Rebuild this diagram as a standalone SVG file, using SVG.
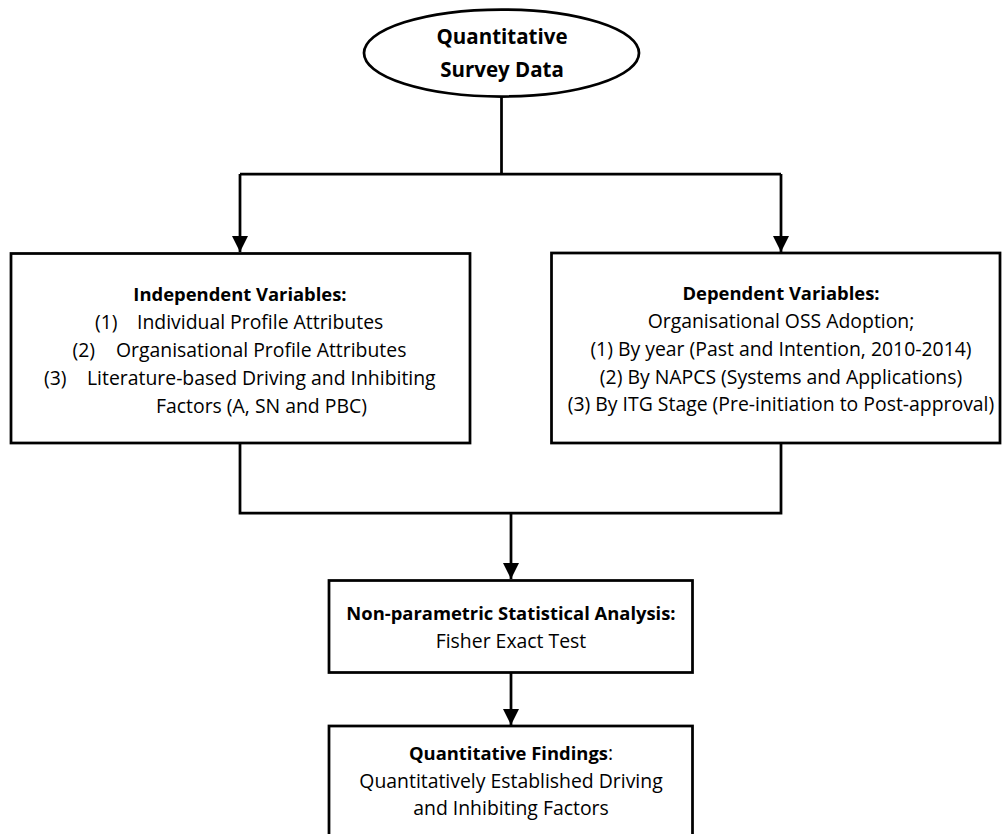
<svg xmlns="http://www.w3.org/2000/svg" width="1003" height="834" viewBox="0 0 1003 834">
  <style>
    .shape { fill: #ffffff; stroke: #000000; stroke-width: 2.75; }
    .wire { fill: none; stroke: #000000; stroke-width: 2.75; }
    text { font-family: "Open Sans", "Noto Sans", "Liberation Sans", sans-serif; fill: #000000; }
    .t { font-size: 19.4px; }
    .b { font-size: 18.4px; font-weight: bold; }
    .title { font-size: 20.5px; font-weight: bold; }
    .c { text-anchor: middle; }
  </style>
  <defs>
    <marker id="arrow" markerUnits="userSpaceOnUse" markerWidth="18" markerHeight="16" refX="16" refY="8" orient="auto">
      <path d="M0,0 L16,8 L0,16 Z" fill="#000000"/>
    </marker>
  </defs>

  <!-- connectors -->
  <g id="connectors">
    <path class="wire" d="M501.5,96.5 V174"/>
    <path class="wire" d="M240,174 H781"/>
    <path class="wire" d="M240,174 V252" marker-end="url(#arrow)"/>
    <path class="wire" d="M781,174 V252" marker-end="url(#arrow)"/>
    <path class="wire" d="M240,443 V513 H781 V443"/>
    <path class="wire" d="M511,513 V579" marker-end="url(#arrow)"/>
    <path class="wire" d="M511,672 V725" marker-end="url(#arrow)"/>
  </g>

  <!-- source data -->
  <g id="survey-data">
    <ellipse class="shape" cx="501.5" cy="53" rx="137.5" ry="43.5"/>
    <text class="title c" x="502" y="44">Quantitative</text>
    <text class="title c" x="502" y="77">Survey Data</text>
  </g>

  <!-- independent variables -->
  <g id="independent-variables">
    <rect class="shape" x="11" y="253.5" width="459" height="189.5"/>
    <text class="b c" x="240" y="301">Independent Variables:</text>
    <text class="t" x="95" y="329">(1)</text>
    <text class="t" x="137" y="329">Individual Profile Attributes</text>
    <text class="t" x="72.5" y="357">(2)</text>
    <text class="t" x="116" y="357">Organisational Profile Attributes</text>
    <text class="t" x="44" y="385">(3)</text>
    <text class="t" x="87" y="385">Literature-based Driving and Inhibiting</text>
    <text class="t" x="156" y="413">Factors (A, SN and PBC)</text>
  </g>

  <!-- dependent variables -->
  <g id="dependent-variables">
    <rect class="shape" x="551.5" y="253" width="448.5" height="190"/>
    <text class="b c" x="781" y="300">Dependent Variables:</text>
    <text class="t c" x="781" y="328">Organisational OSS Adoption;</text>
    <text class="t c" x="781" y="356">(1) By year (Past and Intention, 2010-2014)</text>
    <text class="t c" x="781" y="383.5">(2) By NAPCS (Systems and Applications)</text>
    <text class="t c" x="781" y="411">(3) By ITG Stage (Pre-initiation to Post-approval)</text>
  </g>

  <!-- analysis -->
  <g id="analysis">
    <rect class="shape" x="329" y="580.5" width="363.5" height="92"/>
    <text class="b c" x="511" y="619.5">Non-parametric Statistical Analysis:</text>
    <text class="t c" x="511" y="647.5">Fisher Exact Test</text>
  </g>

  <!-- findings -->
  <g id="findings">
    <rect class="shape" x="329" y="726" width="363.5" height="120"/>
    <text class="t c" x="511" y="759.5"><tspan class="b">Quantitative Findings</tspan>:</text>
    <text class="t c" x="511" y="787.5">Quantitatively Established Driving</text>
    <text class="t c" x="511" y="815">and Inhibiting Factors</text>
  </g>
</svg>
